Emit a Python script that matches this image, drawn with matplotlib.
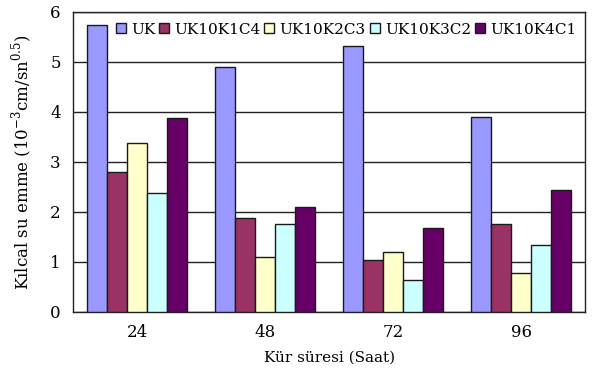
import numpy as np
import matplotlib.pyplot as plt

plt.rcParams['font.family'] = ['DejaVu Serif']

sureler = ['24', '48', '72', '96']
seriler = ['UK', 'UK10K1C4', 'UK10K2C3', 'UK10K3C2', 'UK10K4C1']
degerler = [
    [5.74, 4.90, 5.32, 3.90],   # UK
    [2.80, 1.88, 1.04, 1.76],   # UK10K1C4
    [3.37, 1.10, 1.20, 0.78],   # UK10K2C3
    [2.38, 1.76, 0.64, 1.34],   # UK10K3C2
    [3.87, 2.10, 1.68, 2.44],   # UK10K4C1
]
renkler = ['#9999FF', '#993366', '#FFFFCC', '#CCFFFF', '#660066']

fig, ax = plt.subplots(figsize=(5.96, 3.72), dpi=100)
fig.subplots_adjust(left=0.123, right=0.982, top=0.968, bottom=0.162)

x = np.arange(len(sureler))
w = 0.78 / len(seriler)
for i, (ad, vals) in enumerate(zip(seriler, degerler)):
    ax.bar(x - 0.39 + w * (i + 0.5), vals, w, color=renkler[i],
           edgecolor='#1a1a1a', linewidth=1.0, label=ad, zorder=3)

ax.set_xlim(-0.5, 3.5)
ax.set_ylim(0, 6)
ax.set_yticks(range(7))
ax.set_xticks(x)
ax.set_xticklabels(sureler)
ax.yaxis.grid(True, color='#222222', linewidth=1.0, zorder=0)
ax.tick_params(axis='x', length=0, pad=9, labelsize=12)
ax.tick_params(axis='y', length=0, pad=9, labelsize=12)
for s in ax.spines.values():
    s.set_color('#222222')
    s.set_linewidth(1.0)

ax.set_xlabel('Kür süresi (Saat)', fontsize=11, labelpad=7)
ax.set_ylabel('Kılcal su emme (10$^{\\mathregular{-3}}$cm/sn$^{\\mathregular{0.5}}$)',
              fontsize=12, labelpad=12)

ax.legend(loc='upper left', bbox_to_anchor=(0.062, 1.0), ncol=5, frameon=False,
          fontsize=11, handlelength=0.65, handleheight=0.65, handletextpad=0.35,
          columnspacing=0.25, borderaxespad=0.3)

plt.savefig('out.png')
